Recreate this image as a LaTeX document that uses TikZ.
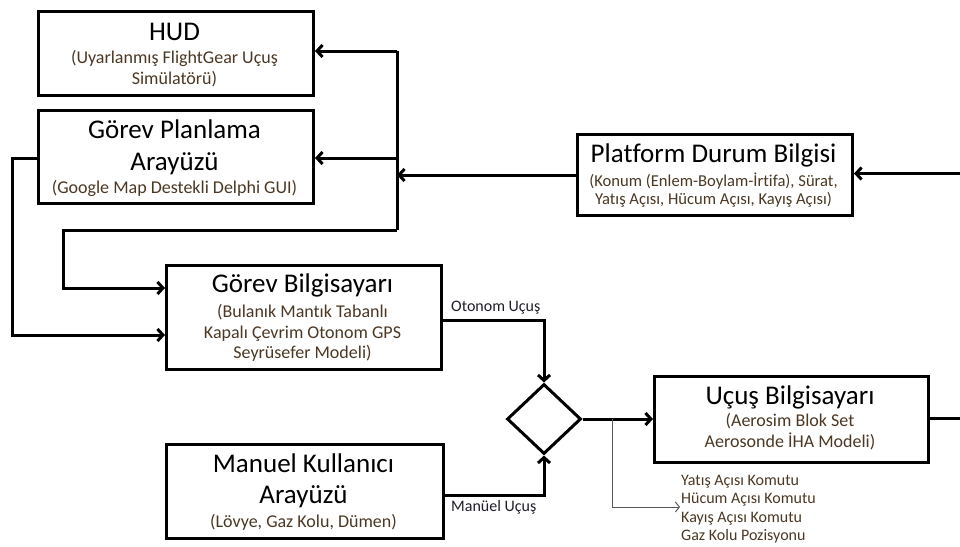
\documentclass[tikz,border=0pt]{standalone}
\usepackage{fontspec}
\setmainfont{Carlito}[Ligatures=NoCommon]
\usetikzlibrary{arrows.meta,shapes.geometric}
\definecolor{subc}{RGB}{75,55,35}
\definecolor{lblc}{RGB}{30,30,40}
\tikzset{
 box/.style={draw, line width=3pt, inner sep=0pt, anchor=north west},
 ttl/.style={font=\fontsize{27}{32}\selectfont, inner sep=0pt, anchor=base},
 sub/.style={font=\fontsize{18}{21}\selectfont, text=subc, inner sep=0pt, anchor=base},
 subsmall/.style={sub, font=\fontsize{16.6}{18}\selectfont},
 lbl/.style={font=\fontsize{16}{19}\selectfont, text=lblc, inner sep=0pt, anchor=base west},
 cmd/.style={font=\fontsize{16}{19}\selectfont, text=subc, inner sep=0pt, anchor=base west},
 conn/.style={line width=3pt},
 arr/.style={conn, -{Straight Barb[length=5.5pt,width=12pt]}},
 thinarr/.style={line width=1pt, draw=black!65, -{Straight Barb[length=4pt,width=10pt]}},
}
\begin{document}
\begin{tikzpicture}[x=1pt,y=-1pt]
\useasboundingbox (0,0) rectangle (960,546);
% boxes
\node[box, minimum width=275pt, minimum height=84pt] (hud) at (37,10) {};
\node[box, minimum width=275pt, minimum height=93pt] (gp) at (37,109) {};
\node[box, minimum width=275pt, minimum height=81pt] (plat) at (576,133) {};
\node[box, minimum width=275pt, minimum height=104pt] (gb) at (165,264) {};
\node[box, minimum width=277pt, minimum height=94pt] (man) at (165,443) {};
\node[box, minimum width=274pt, minimum height=86pt] (ucus) at (653,375) {};
\node[draw, diamond, line width=3pt, minimum width=74pt, minimum height=70pt, inner sep=0pt, aspect=1.06] (sw) at (544,419) {};
% texts
\node[ttl] (hudT) at (174.5,40) {HUD};
\node[sub] (hudS1) at (174.5,63) {(Uyarlanmış FlightGear Uçuş};
\node[sub] (hudS2) at (174.5,84) {Simülatörü)};
\node[ttl] (gpT1) at (174.5,138) {Görev Planlama};
\node[ttl] (gpT2) at (174.5,170) {Arayüzü};
\node[sub] (gpS) at (174.5,193) {(Google Map Destekli Delphi GUI)};
\node[ttl] (platT) at (713.5,162) {Platform Durum Bilgisi};
\node[subsmall] (platS1) at (713.5,186) {(Konum (Enlem-Boylam-İrtifa), Sürat,};
\node[subsmall] (platS2) at (713.5,204) {Yatış Açısı, Hücum Açısı, Kayış Açısı)};
\node[ttl] (gbT) at (302.5,292) {Görev Bilgisayarı};
\node[sub] (gbS1) at (302.5,317) {(Bulanık Mantık Tabanlı};
\node[sub] (gbS2) at (302.5,338) {Kapalı Çevrim Otonom GPS};
\node[sub] (gbS3) at (302.5,358) {Seyrüsefer Modeli)};
\node[ttl] (manT1) at (303.5,472) {Manuel Kullanıcı};
\node[ttl] (manT2) at (303.5,503) {Arayüzü};
\node[sub] (manS) at (303.5,527) {(Lövye, Gaz Kolu, Dümen)};
\node[ttl] (ucT) at (790,404) {Uçuş Bilgisayarı};
\node[sub] (ucS1) at (790,426) {(Aerosim Blok Set};
\node[sub] (ucS2) at (790,447) {Aerosonde İHA Modeli)};
\node[lbl] (otoL) at (451,311) {Otonom Uçuş};
\node[lbl] (manL) at (451,511) {Manüel Uçuş};
\node[cmd] (c1) at (681,485) {Yatış Açısı Komutu};
\node[cmd] (c2) at (681,503) {Hücum Açısı Komutu};
\node[cmd] (c3) at (681,522) {Kayış Açısı Komutu};
\node[cmd] (c4) at (681,540) {Gaz Kolu Pozisyonu};
% bus
\coordinate (b1) at (397,51);
\coordinate (b2) at (397,158);
\coordinate (b4) at (397,230);
\coordinate (pR) at (960,173.5);
\draw[conn] (b1) -- (b4);
\draw[arr] (b1) -- (b1 -| hud.east);
\draw[arr] (b2) -- (b2 -| gp.east);
\draw[arr] (pR) -- (pR -| plat.east);
\draw[arr] (plat.west) -- (plat.west -| b1);
\coordinate (c1a) at (63,230);
\coordinate (c2a) at (63,288);
\draw[arr] (b4) -- (c1a) -- (c2a) -- (c2a -| gb.west);
\coordinate (d1) at (12,158);
\coordinate (d2) at (12,335);
\draw[arr] (d1 -| gp.west) -- (d1) -- (d2) -- (d2 -| gb.west);
% switch
\coordinate (o1) at (544,320);
\draw[arr] (o1 -| gb.east) -- (o1) -- (sw.north);
\coordinate (m1) at (544,495);
\draw[arr] (m1 -| man.east) -- (m1) -- (sw.south);
\draw[arr] (sw.east) -- (sw.east -| ucus.west);
\coordinate (uR) at (960,418);
\draw[conn] (uR -| ucus.east) -- (uR);
\coordinate (t0) at (612,419);
\coordinate (t1) at (612,507);
\coordinate (t2) at (680,507);
\draw[thinarr] (t0) -- (t1) -- (t2);
\end{tikzpicture}
\end{document}
